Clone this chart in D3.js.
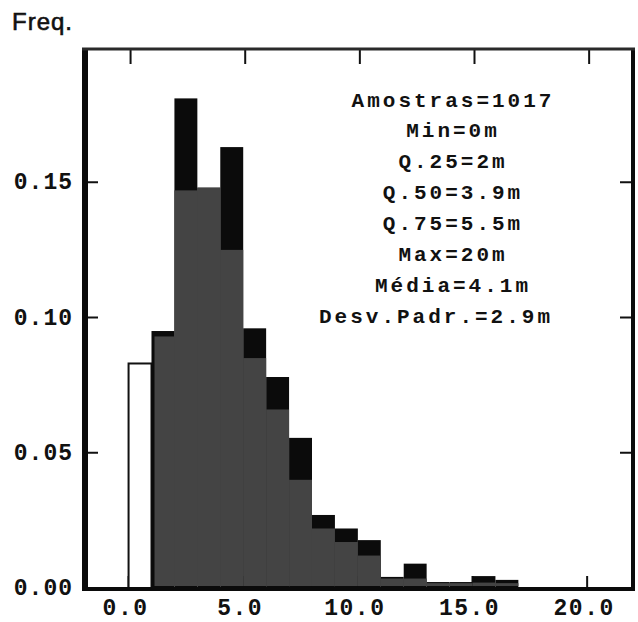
<!DOCTYPE html>
<html>
<head>
<meta charset="utf-8">
<script src="https://cdn.jsdelivr.net/npm/d3@7"></script>
<style>
  html, body { margin: 0; padding: 0; background: #fff; }
  svg { display: block; }
</style>
</head>
<body>
<svg id="chart" width="638" height="622"></svg>
<script>
// ---- data ----
const binStarts = [0, 1, 2, 3, 4, 5, 6, 7, 8, 9, 10, 11, 12, 13, 14, 15, 16];
const binWidth = 1;
const freqAll   = [0.083, 0.095, 0.181, 0.148, 0.163, 0.096, 0.078, 0.0555, 0.027, 0.022, 0.0177, 0.0041, 0.0090, 0.0022, 0.0022, 0.0044, 0.0030];
const freqShade = [0, 0.093, 0.147, 0.148, 0.125, 0.085, 0.066, 0.040, 0.022, 0.017, 0.012, 0.0035, 0.0035, 0.0018, 0.0018, 0.0020, 0.0018];
const xTickValues = [0, 5, 10, 15, 20];
const xTickLabels = ["0.0", "5.0", "10.0", "15.0", "20.0"];
const yTickValues = [0, 0.05, 0.10, 0.15];
const yTickLabels = ["0.00", "0.05", "0.10", "0.15"];
const statsLines = ["Amostras=1017", "Min=0m", "Q.25=2m", "Q.50=3.9m", "Q.75=5.5m", "Max=20m", "Média=4.1m", "Desv.Padr.=2.9m"];
const yTitle = "Freq.";

// ---- layout ----
const L = 85, R = 633, T = 49, B = 589;
const svg = d3.select("#chart");
const x = d3.scaleLinear().domain([-1.9, 22]).range([L, R]);
const y = d3.scaleLinear().domain([0, 0.2]).range([588, 47]);

const mono = "'Liberation Mono', 'DejaVu Sans Mono', monospace";

// inner ticks (drawn first, bars cover them)
const tickG = svg.append("g").attr("stroke", "#111").attr("stroke-width", 2);
tickG.selectAll("line.bt").data(xTickValues).join("line")
  .attr("x1", d => x(d)).attr("x2", d => x(d))
  .attr("y1", B).attr("y2", B - 13);
tickG.selectAll("line.tt").data(xTickValues).join("line")
  .attr("x1", d => x(d) + 2).attr("x2", d => x(d) + 2)
  .attr("y1", T).attr("y2", T + 15);
tickG.selectAll("line.lt").data(yTickValues.slice(1)).join("line")
  .attr("x1", L).attr("x2", L + 13)
  .attr("y1", d => y(d)).attr("y2", d => y(d));
tickG.selectAll("line.rt").data(yTickValues.slice(1)).join("line")
  .attr("x1", R).attr("x2", R - 13)
  .attr("y1", d => y(d)).attr("y2", d => y(d));

// black histogram
svg.append("g").selectAll("rect").data(binStarts).join("rect")
  .attr("x", d => x(d))
  .attr("width", d => x(d + binWidth) - x(d))
  .attr("y", (d, i) => y(freqAll[i]))
  .attr("height", (d, i) => y(0) - y(freqAll[i]))
  .attr("fill", (d, i) => i === 0 ? "#fff" : "#0b0b0b")
  .attr("stroke", (d, i) => i === 0 ? "#111" : "none")
  .attr("stroke-width", 2);

// shaded (halftone) histogram
svg.append("g").selectAll("rect").data(binStarts).join("rect")
  .attr("x", (d, i) => x(d) + (i === 1 ? 3 : 0))
  .attr("width", (d, i) => x(d + binWidth) - x(d) - (i === 1 ? 3 : 0))
  .attr("y", (d, i) => y(freqShade[i]))
  .attr("height", (d, i) => Math.max(0, y(0) - y(freqShade[i]) - 2))
  .attr("fill", "#444444");

// frame
const frame = svg.append("g").attr("stroke", "#0b0b0b");
frame.append("line").attr("x1", L).attr("x2", L).attr("y1", T - 1).attr("y2", B + 2).attr("stroke-width", 6);
frame.append("line").attr("x1", L - 3).attr("x2", R + 2).attr("y1", B).attr("y2", B).attr("stroke-width", 4);
frame.append("line").attr("x1", R).attr("x2", R).attr("y1", T - 1).attr("y2", B + 2).attr("stroke-width", 4);
frame.append("line").attr("x1", L - 3).attr("x2", R + 2).attr("y1", T).attr("y2", T).attr("stroke-width", 3).attr("stroke", "#2a2a2a");

// y tick labels
svg.append("g").selectAll("text").data(yTickValues).join("text")
  .attr("x", 73).attr("y", d => y(d) + 1)
  .attr("text-anchor", "end").attr("dominant-baseline", "central")
  .attr("font-family", mono).attr("font-weight", "bold").attr("font-size", 23)
  .attr("letter-spacing", 1).attr("fill", "#111")
  .text((d, i) => yTickLabels[i]);

// x tick labels
svg.append("g").selectAll("text").data(xTickValues).join("text")
  .attr("x", d => x(d) - 3).attr("y", 609)
  .attr("text-anchor", "middle").attr("dominant-baseline", "central")
  .attr("font-family", mono).attr("font-weight", "bold").attr("font-size", 23)
  .attr("letter-spacing", 1.5).attr("fill", "#111")
  .text((d, i) => xTickLabels[i]);

// y title
svg.append("text").attr("x", 12).attr("y", 30)
  .attr("font-family", "'Liberation Sans', Arial, sans-serif")
  .attr("font-size", 24).attr("letter-spacing", 1).attr("fill", "#111")
  .attr("stroke", "#111").attr("stroke-width", 0.6)
  .text(yTitle);

// stats annotation
svg.append("g").selectAll("text").data(statsLines).join("text")
  .attr("x", (d, i) => i === statsLines.length - 1 ? 436 : 453)
  .attr("y", (d, i) => 101 + i * 30.9)
  .attr("text-anchor", "middle").attr("dominant-baseline", "central")
  .attr("font-family", mono).attr("font-weight", "bold").attr("font-size", 21)
  .attr("letter-spacing", 3).attr("fill", "#111")
  .text(d => d);
</script>
</body>
</html>
